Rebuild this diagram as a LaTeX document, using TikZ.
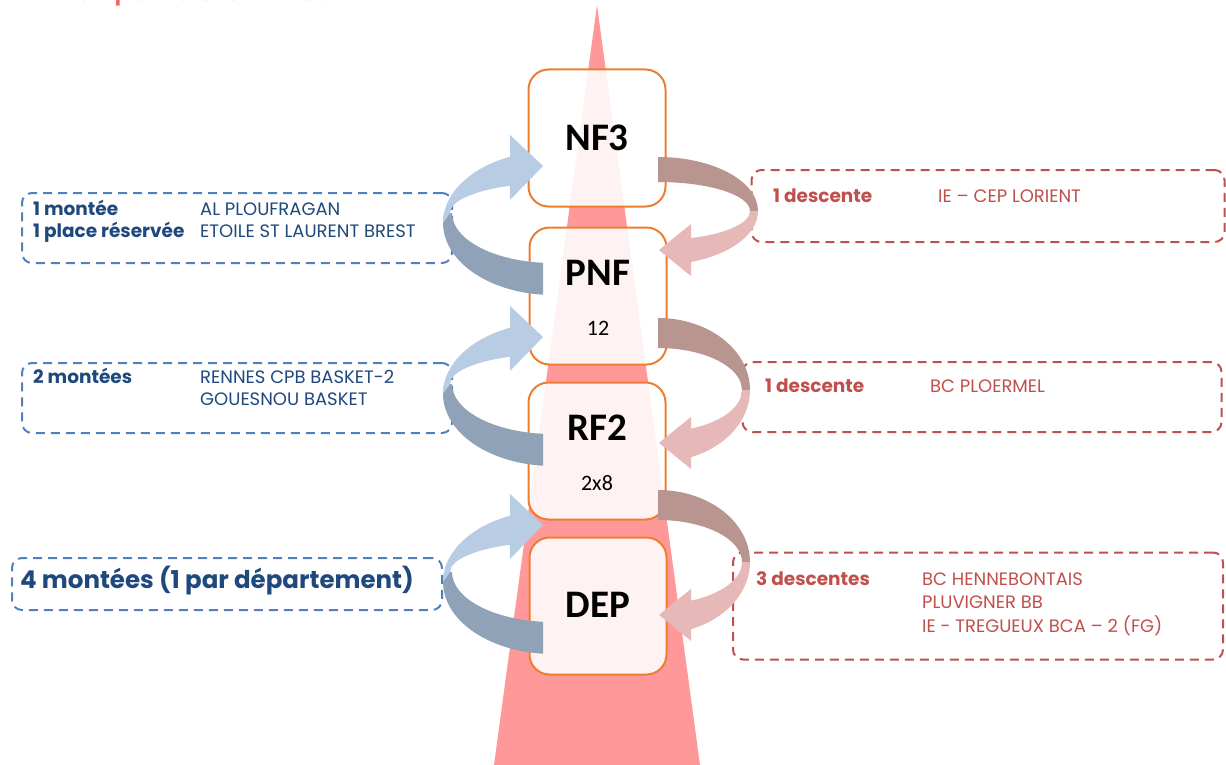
\documentclass[tikz,border=0pt]{standalone}
\usepackage{fontspec}
\setmainfont{Poppins}
\newfontfamily\levelfont{Carlito}

\definecolor{upblue}{HTML}{B8CCE4}
\definecolor{upbluedark}{HTML}{8FA2B7}
\definecolor{downred}{HTML}{E6B9B8}
\definecolor{downreddark}{HTML}{B9958F}
\definecolor{frameblue}{HTML}{4F81BD}
\definecolor{textblue}{HTML}{1F497D}
\definecolor{framered}{HTML}{C0504D}
\definecolor{titlered}{HTML}{F2665E}
\definecolor{levelorange}{HTML}{ED7D31}
\definecolor{pyramid}{HTML}{FF9999}

\begin{document}
\begin{tikzpicture}[x=1pt,y=-1pt]
	\tikzset{levelbox/.style={draw=levelorange,line width=2pt,fill=white,fill opacity=0.88,rounded corners=20pt,minimum width=137pt,minimum height=137pt,inner sep=0pt}}
	\tikzset{levelname/.style={anchor=base,inner sep=0pt,font=\levelfont\bfseries\fontsize{39}{39}\selectfont}}
	\tikzset{levelsize/.style={anchor=base,inner sep=0pt,font=\levelfont\fontsize{22}{22}\selectfont}}
	\tikzset{upframe/.style={draw=frameblue,line width=2pt,dash pattern=on 9pt off 6pt,rounded corners=10pt,inner sep=0pt}}
	\tikzset{downframe/.style={upframe,draw=framered}}
	\tikzset{uptext/.style={anchor=base west,inner sep=0pt,text=textblue,font=\fontsize{18}{18}\selectfont}}
	\tikzset{upcount/.style={uptext,font=\bfseries\fontsize{18.5}{18.5}\selectfont}}
	\tikzset{downtext/.style={uptext,text=framered}}
	\tikzset{downcount/.style={upcount,text=framered}}

	\useasboundingbox (0,0) rectangle (1226,765);
	\fill[white] (0,0) rectangle (1226,765);
	\node[anchor=base west,inner sep=0pt,text=titlered,font=\bfseries\fontsize{21}{21}\selectfont] (title) at (48,1) {Championnats Féminins :};

	\fill[pyramid] (597,5) -- (700,765) -- (494,765) -- cycle;

	\node[upframe,minimum width=430pt,minimum height=70pt] (upa) at (237,228) {};
	\node[upframe,minimum width=430pt,minimum height=70pt] (upb) at (237,398) {};
	\node[upframe,minimum width=430pt,minimum height=52pt] (upc) at (227,584) {};
	\node[downframe,minimum width=473pt,minimum height=72pt] (downa) at (988,206) {};
	\node[downframe,minimum width=479pt,minimum height=70pt] (downb) at (982,397) {};
	\node[downframe,minimum width=490pt,minimum height=107pt] (downc) at (978,606) {};

	\node[levelbox] (nf3) at (597,138) {};
	\node[levelbox] (pnf) at (598,296) {};
	\node[levelbox] (rf2) at (597,451) {};
	\node[levelbox] (dep) at (598,606) {};

	\foreach \dy in {0,171,359} {
		\begin{scope}[shift={(0,\dy)}]
			\fill[upbluedark] (444.1,213) arc[start angle=172,end angle=264.8,x radius=110pt,y radius=72pt] -- (543,262.8) arc[start angle=264.3,end angle=180,x radius=101pt,y radius=50pt] -- cycle;
			\fill[upblue] (510,156.7) arc[start angle=113,end angle=180,x radius=110pt,y radius=72pt] -- (450,213) arc[start angle=180,end angle=114.7,x radius=103pt,y radius=30pt] -- (510,200) -- (543,166) -- (510,135) -- cycle;
		\end{scope}
	}

	\foreach \ty/\rx/\ry/\th in {157/100/54/25,318/92/72/30,490/92/72/30} {
		\pgfmathsetmacro\cy{\ty+\ry}
		\pgfmathsetmacro\rxi{\rx-8}
		\pgfmathsetmacro\ryi{\ry-\th}
		\pgfmathsetmacro\ao{acos(33/\rx)}
		\pgfmathsetmacro\ai{acos(33/\rxi)}
		\pgfmathsetmacro\yo{\cy+\ry*sin(\ao)}
		\pgfmathsetmacro\yi{\cy+\ryi*sin(\ai)}
		\pgfmathsetmacro\ym{(\yo+\yi)/2}
		\fill[downreddark] (658,\ty) arc[start angle=90,end angle=0,x radius=\rx pt,y radius=\ry pt] -- ++(-8pt,0) arc[start angle=0,end angle=90,x radius=\rxi pt,y radius=\ryi pt] -- cycle;
		\fill[downred] (658+\rx,\cy) arc[start angle=0,end angle=-\ao,x radius=\rx pt,y radius=\ry pt] -- (691,\ym+26) -- (659,\ym) -- (691,\ym-26) -- (691,\yi) arc[start angle=-\ai,end angle=0,x radius=\rxi pt,y radius=\ryi pt] -- cycle;
	}

	\node[levelname] (nf3-name) at (597,150) {NF3};
	\node[levelname] (pnf-name) at (598,285) {PNF};
	\node[levelsize] (pnf-size) at (598,335) {12};
	\node[levelname] (rf2-name) at (597,440) {RF2};
	\node[levelsize] (rf2-size) at (597,490) {2x8};
	\node[levelname] (dep-name) at (598,617) {DEP};

	\node[upcount] (upa-one) at (33,215) {1 montée};
	\node[upcount] (upa-two) at (33,237) {1 place réservée};
	\node[uptext] (upa-clubone) at (200,215) {AL PLOUFRAGAN};
	\node[uptext] (upa-clubtwo) at (200,237) {ETOILE ST LAURENT BREST};
	\node[upcount] (upb-one) at (33,383) {2 montées};
	\node[uptext] (upb-clubone) at (200,383) {RENNES CPB BASKET-2};
	\node[uptext] (upb-clubtwo) at (200,405) {GOUESNOU BASKET};
	\node[upcount,font=\bfseries\fontsize{24.5}{24.5}\selectfont] (upc-one) at (20,588) {4 montées (1 par département)};

	\node[downcount] (downa-one) at (773,202) {1 descente};
	\node[downtext] (downa-club) at (938,202) {IE – CEP LORIENT};
	\node[downcount] (downb-one) at (765,392) {1 descente};
	\node[downtext] (downb-club) at (930,392) {BC PLOERMEL};
	\node[downcount] (downc-one) at (756,585) {3 descentes};
	\node[downtext] (downc-clubone) at (922,585) {BC HENNEBONTAIS};
	\node[downtext] (downc-clubtwo) at (922,608) {PLUVIGNER BB};
	\node[downtext] (downc-clubthree) at (922,632) {IE - TREGUEUX BCA – 2 (FG)};
\end{tikzpicture}
\end{document}
